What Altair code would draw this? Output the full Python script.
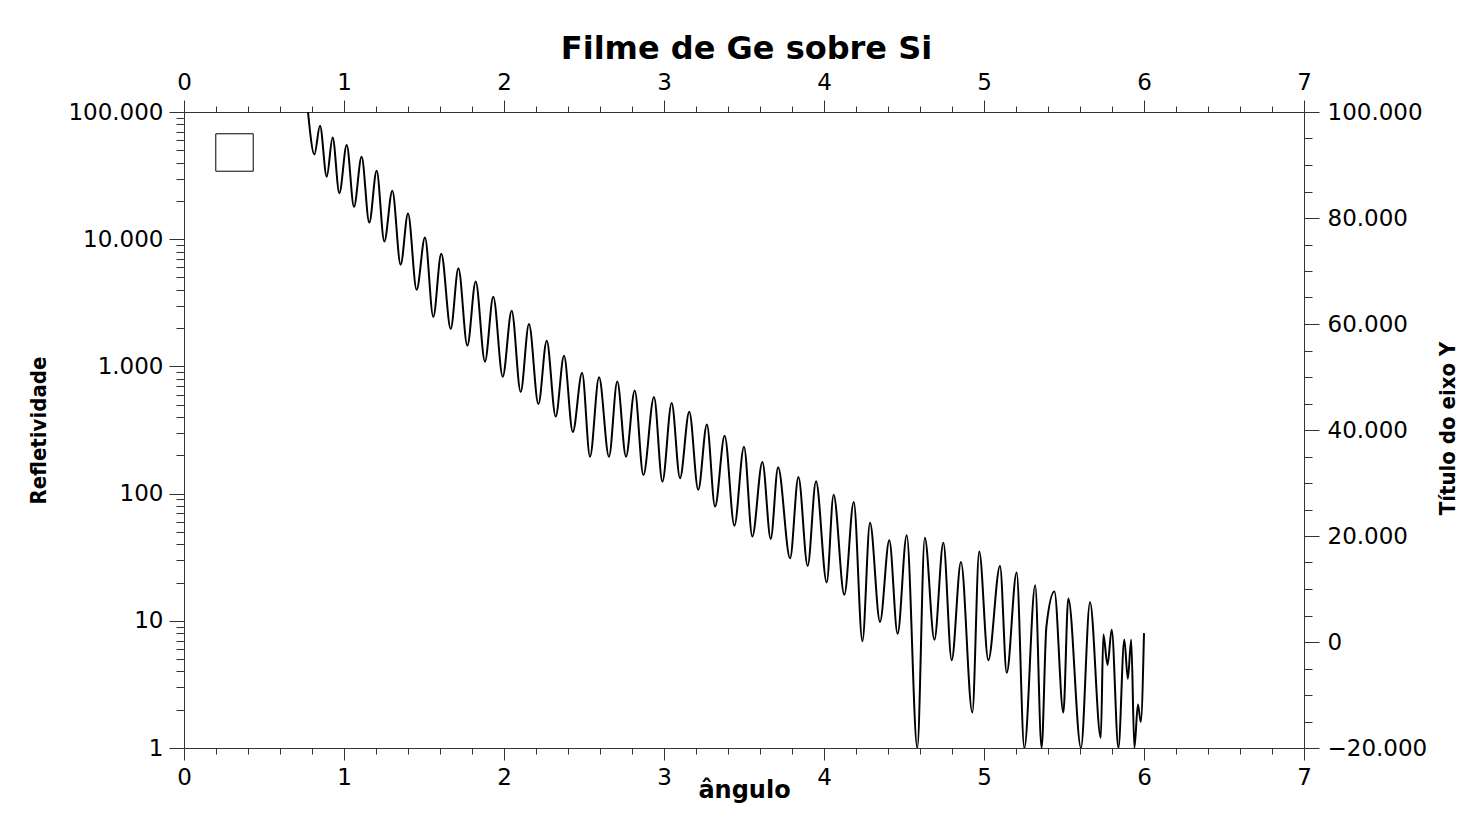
import altair as alt
import pandas as pd

# ---- data (peaks, troughs and shoulders) ----
angle = [0.775, 0.815, 0.850, 0.892, 0.929, 0.971, 1.017, 1.0625, 1.110, 1.158,
         1.204, 1.252, 1.302, 1.354, 1.400, 1.454, 1.506, 1.558, 1.608, 1.667,
         1.715, 1.771, 1.823, 1.881, 1.933, 1.992, 2.048, 2.104, 2.156, 2.215,
         2.267, 2.323, 2.375, 2.430, 2.488, 2.5375, 2.594, 2.656, 2.708, 2.7625,
         2.817, 2.871, 2.9375, 2.990, 3.048, 3.100, 3.158, 3.214, 3.268, 3.319,
         3.379, 3.440, 3.500, 3.552, 3.615, 3.667, 3.713, 3.788, 3.840, 3.898,
         3.950, 4.017, 4.060, 4.127, 4.186, 4.240, 4.2875, 4.350, 4.408, 4.460,
         4.517, 4.583, 4.630, 4.690, 4.746, 4.798, 4.856, 4.927, 4.970, 5.027,
         5.100, 5.142, 5.204, 5.252, 5.320, 5.360, 5.390, 5.440, 5.496, 5.527,
         5.606, 5.6625, 5.730, 5.746, 5.772, 5.798, 5.840, 5.877, 5.899, 5.920,
         5.940, 5.962, 5.980, 6.000]
refl = [100000, 46400, 78000, 31000, 63000, 23000, 55000, 18000, 44500, 13500,
        34500, 9600, 24000, 6300, 15900, 4000, 10300, 2450, 7700, 1970,
        5900, 1455, 4640, 1090, 3530, 830, 2740, 630, 2150, 506,
        1590, 403, 1210, 305, 890, 195, 820, 195, 760, 195,
        645, 140, 575, 124, 515, 132, 441, 107, 350, 79,
        285, 56, 234, 46, 177, 44, 161, 31, 135, 27,
        125, 20, 98, 16, 86, 6.9, 59, 9.8, 43, 7.9,
        47, 1, 45, 7.1, 41, 4.9, 29, 1.9, 35, 4.9,
        27, 3.9, 24, 1, 19, 1, 9, 17, 1.9, 15,
        1, 14, 1.2, 7.8, 4.5, 8.5, 1, 7.1, 3.5, 7.1,
        1, 2.2, 1.6, 8]
series = ["Refletividade"] * len(angle)

# ---- axes ----
x_range = [0, 7]
x_ticks = [0, 0.2, 0.4, 0.6, 0.8, 1, 1.2, 1.4, 1.6, 1.8, 2, 2.2, 2.4, 2.6, 2.8,
           3, 3.2, 3.4, 3.6, 3.8, 4, 4.2, 4.4, 4.6, 4.8, 5, 5.2, 5.4, 5.6, 5.8,
           6, 6.2, 6.4, 6.6, 6.8, 7]
x_major = [0, 1, 2, 3, 4, 5, 6, 7]
y_range = [1, 100000]
y_ticks = [1, 2, 3, 4, 5, 6, 7, 8, 9,
           10, 20, 30, 40, 50, 60, 70, 80, 90,
           100, 200, 300, 400, 500, 600, 700, 800, 900,
           1000, 2000, 3000, 4000, 5000, 6000, 7000, 8000, 9000,
           10000, 20000, 30000, 40000, 50000, 60000, 70000, 80000, 90000,
           100000]
y_major = [1, 10, 100, 1000, 10000, 100000]
r_range = [-20000, 100000]
r_ticks = [-20000, -15000, -10000, -5000, 0, 5000, 10000, 15000, 20000, 25000,
           30000, 35000, 40000, 45000, 50000, 55000, 60000, 65000, 70000, 75000,
           80000, 85000, 90000, 95000, 100000]
r_major = [-20000, 0, 20000, 40000, 60000, 80000, 100000]

df = pd.DataFrame({"angle": angle, "refl": refl, "serie": series})
df_r = pd.DataFrame({"angle": x_range, "right": r_range})

LABEL_FONT = "DejaVu Sans"
NARROW = "DejaVu Sans Condensed, DejaVu Sans, sans-serif"
AX = "#333333"


def is_major(lst):
    return f"indexof({lst}, datum.value) >= 0"


def tick_size(lst, big, small):
    return {"condition": {"test": is_major(lst), "value": big}, "value": small}


common = dict(labelFont=LABEL_FONT, labelFontSize=23, labelColor="black",
              domainColor=AX, tickColor=AX, grid=False, titleColor="black",
              labelOverlap=False, labelFlush=False, labelBound=False,
              domainWidth=1, tickWidth=1)

thousands = "replace(format(datum.value, ','), ',', '.')"

x_bottom = alt.Axis(orient="bottom", values=x_ticks,
                    labelExpr=f"{is_major(x_major)} ? format(datum.value, 'd') : ''",
                    tickSize=tick_size(x_major, 12, 6), labelPadding=6,
                    title="ângulo", titleFont=LABEL_FONT, titleFontSize=24,
                    titleFontWeight="bold", titleX=560, titleY=42,
                    titleBaseline="middle", titleAlign="center", **common)

x_top = alt.Axis(orient="top", values=x_ticks,
                 labelExpr=f"{is_major(x_major)} ? format(datum.value, 'd') : ''",
                 tickSize=tick_size(x_major, 12, 6), labelPadding=6,
                 title="Filme de Ge sobre Si", titleFont=LABEL_FONT,
                 titleFontSize=32, titleFontWeight="bold", titleX=562,
                 titleY=-64, titleBaseline="middle", titleAlign="center",
                 **common)

y_left = alt.Axis(orient="left", values=y_ticks,
                  labelExpr=f"{is_major(y_major)} ? {thousands} : ''",
                  tickSize=tick_size(y_major, 15, 8), labelPadding=6,
                  title="Refletividade", titleFont=NARROW, titleFontSize=22,
                  titleFontWeight="bold", titleAngle=270, titleX=-146,
                  titleY=318, titleBaseline="middle", titleAlign="center",
                  **common)

y_right = alt.Axis(orient="right", values=r_ticks,
                   labelExpr=f"{is_major(r_major)} ? {thousands} : ''",
                   tickSize=tick_size(r_major, 15, 8), labelPadding=8,
                   title="Título do eixo Y", titleFont=NARROW, titleFontSize=22,
                   titleFontWeight="bold", titleAngle=270, titleX=143,
                   titleY=316, titleBaseline="middle", titleAlign="center",
                   **common)

line = alt.Chart(df).mark_line(strokeWidth=2, interpolate="monotone", clip=True).encode(
    x=alt.X("angle:Q", scale=alt.Scale(domain=x_range, nice=False, zero=False), axis=x_bottom),
    y=alt.Y("refl:Q", scale=alt.Scale(type="log", domain=y_range, nice=False), axis=y_left),
    stroke=alt.Stroke("serie:N", scale=alt.Scale(range=["black"]),
                      legend=alt.Legend(title=None, orient="none", legendX=31, legendY=21,
                                        symbolType="square", symbolSize=1400,
                                        symbolFillColor="white", symbolStrokeColor="black",
                                        symbolStrokeWidth=1, labelExpr="''", padding=0,
                                        labelFontSize=1)),
)

right = alt.Chart(df_r).mark_point(opacity=0).encode(
    x=alt.X("angle:Q", scale=alt.Scale(domain=x_range, nice=False, zero=False), axis=x_top),
    y=alt.Y("right:Q", scale=alt.Scale(domain=r_range, nice=False, zero=False), axis=y_right),
)

chart = alt.layer(line, right).resolve_scale(y="independent").resolve_axis(
    x="independent", y="independent"
).properties(
    width=1120, height=636,
    autosize=alt.AutoSizeParams(type="none"),
    padding={"left": 176, "top": 104, "right": 155, "bottom": 60},
    background="white",
).configure_view(stroke=None)

chart.save("out.html", embed_options={"renderer": "svg", "actions": False})
